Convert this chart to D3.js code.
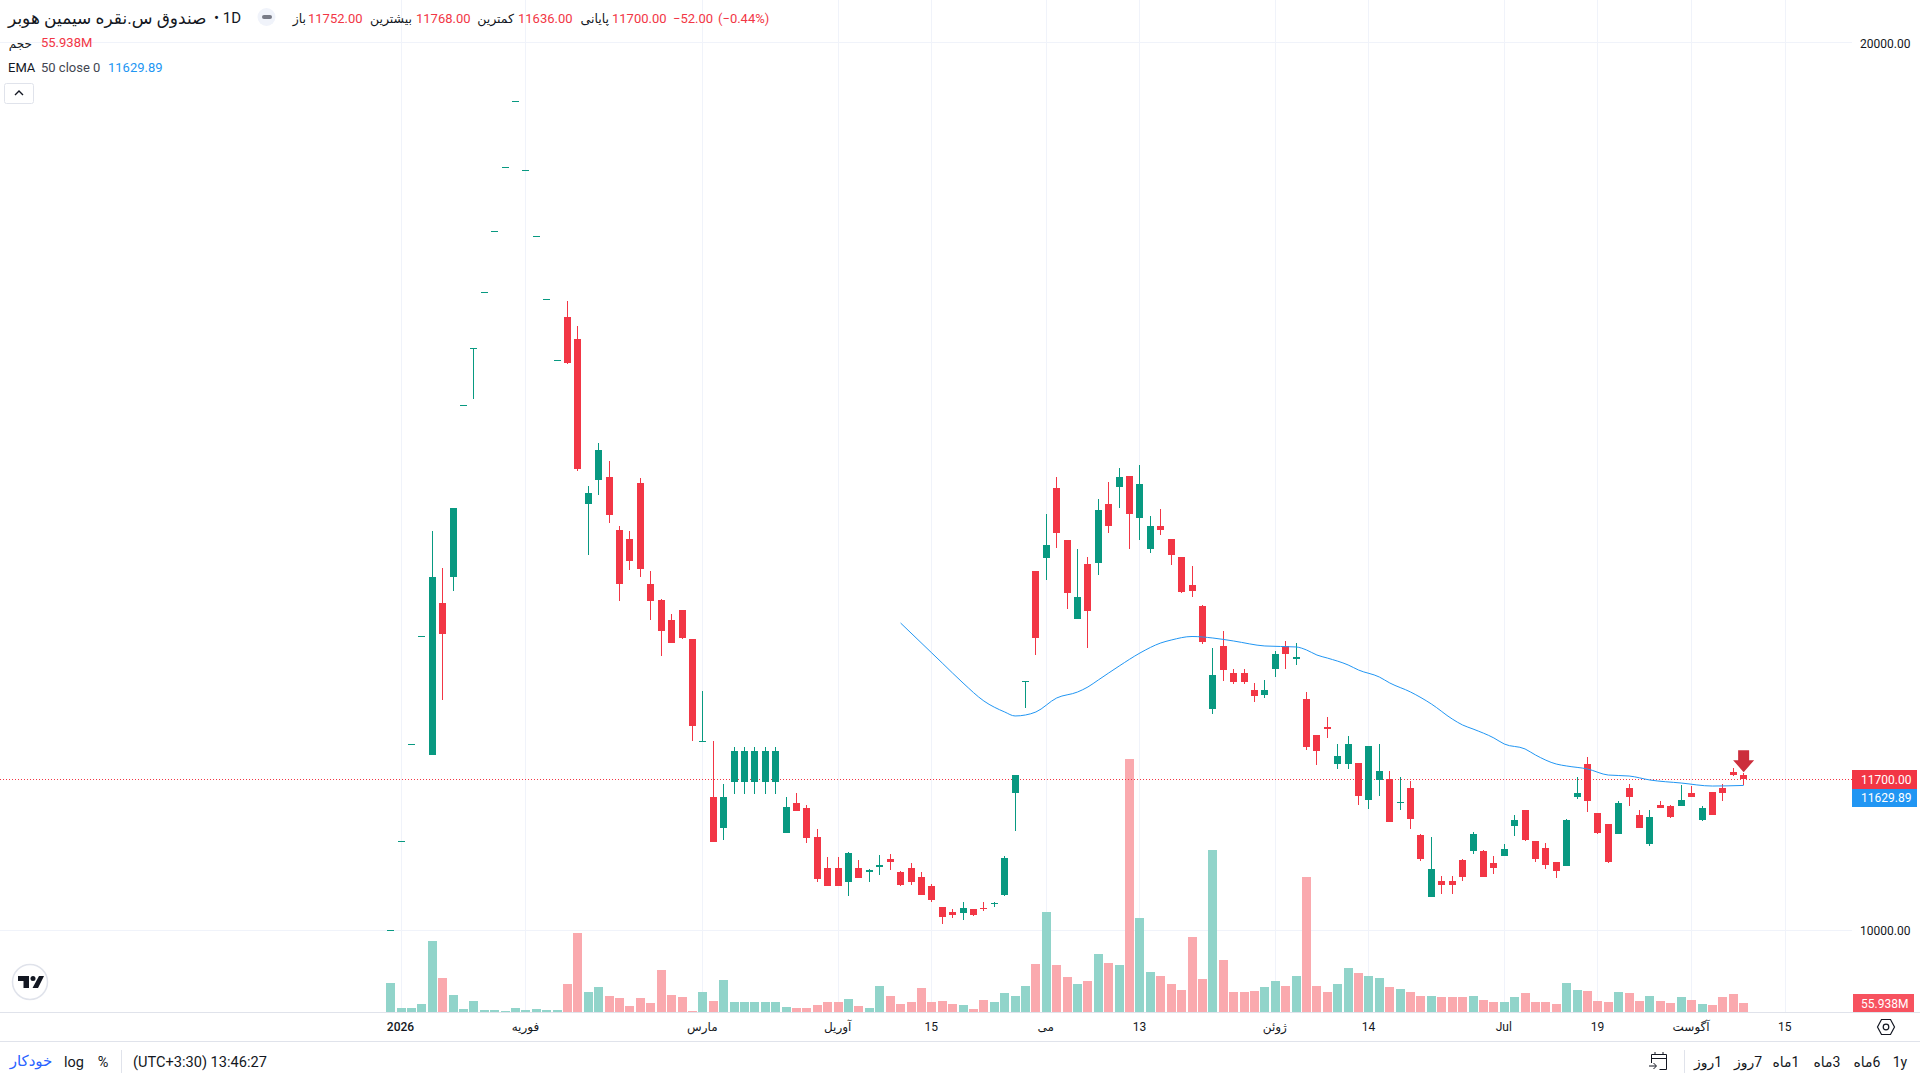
<!DOCTYPE html>
<html>
<head>
<meta charset="utf-8">
<script src="https://cdn.jsdelivr.net/npm/d3@7"></script>
<style>
  html, body { margin: 0; padding: 0; background: #fff; overflow: hidden; }
  text { font-family: Roboto, "DejaVu Sans", sans-serif; }
</style>
</head>
<body>
<div id="wrapper"></div>
<script>
// values, one entry per daily bar
const openValues = [
  10000,11000,12100,13310,11973,13687,13980,15915,16558,17189,
  17877,18599,19343,18565,17821,17110,16423,16911,16663,14803,
  15073,15107,14510,14408,15039,13901,13720,13495,13608,13281,
  12130,11499,11150,11669,11669,11669,11669,11669,11094,11432,
  11375,11048,10699,10699,10541,10699,10654,10710,10800,10654,
  10699,10598,10496,10259,10203,10192,10237,10248,10293,10395,
  11545,12807,14047,14194,14983,14397,13506,14126,14138,14803,
  14994,15118,14645,14295,14555,14408,14205,13890,13653,12492,
  13202,12897,12897,12706,12649,12943,13202,13055,12604,12198,
  12289,11871,11871,11883,11466,11691,11702,11432,11601,11071,
  10372,10552,10552,10789,10891,10891,10755,10834,11172,11353,
  11003,10924,10767,10722,11499,11871,11319,11195,11082,11601,
  11297,10970,11409,11398,11398,11545,11240,11556,11601,11781,11752];
const highValues = [
  10000,11000,12100,13310,14498,14081,14758,15915,16558,17189,
  17877,18599,19343,18565,17821,17110,16423,17091,16810,15006,
  15490,15288,14555,14498,15096,14047,13732,13563,13608,13281,
  12694,12130,11646,12063,12063,12063,12063,12063,11499,11545,
  11409,11139,10823,10823,10879,10789,10688,10846,10857,10665,
  10755,10654,10519,10259,10237,10316,10237,10316,10316,10834,
  11747,12807,14047,14690,15107,14397,14295,14205,14859,15051,
  15209,15118,15242,14667,14746,14408,14205,14104,13664,13179,
  13371,12943,12943,12785,12819,13145,13258,13236,12683,12198,
  12401,12097,12187,11883,12074,12097,11793,11725,11680,11082,
  11048,10609,10609,10800,11105,10902,10834,10970,11297,11353,
  11003,10981,10767,11251,11725,11950,11319,11195,11454,11646,
  11353,11353,11454,11409,11635,11623,11398,11556,11646,11826,11768];
const lowValues = [
  10000,11000,12100,13310,11973,12593,13822,15915,15990,17189,
  17877,18599,19343,18565,17821,17110,16423,16381,15175,14228,
  14904,14589,13709,14059,13980,13495,13089,13236,13281,12131,
  12130,10992,11015,11533,11533,11533,11533,11533,11094,11342,
  10981,10541,10496,10496,10383,10586,10541,10620,10676,10496,
  10507,10395,10316,10068,10135,10113,10158,10214,10259,10383,
  11116,12503,13100,13946,14307,13619,13506,13179,14002,14476,
  14758,14295,14397,14250,14453,14115,13799,13754,13224,12435,
  12807,12773,12773,12570,12616,12852,12943,12988,12029,11860,
  12165,11815,11815,11409,11364,11511,11218,11353,11139,10778,
  10372,10406,10406,10552,10857,10598,10631,10834,11060,11003,
  10767,10688,10586,10722,11477,11330,11082,10755,11082,11398,
  11150,10947,11375,11263,11398,11499,11229,11297,11454,11736,11636];
const closeValues = [
  10000,11000,12100,13310,13980,13337,14758,15915,16558,17189,
  17877,18599,19343,18565,17821,17110,16423,16392,15197,14927,
  15412,14679,13901,14160,14070,13709,13371,13236,13292,12300,
  12130,10992,11499,12018,12018,12018,12018,12018,11387,11342,
  11037,10575,10496,10496,10868,10586,10676,10733,10767,10507,
  10541,10395,10338,10147,10169,10248,10169,10237,10304,10812,
  11747,12807,13292,14340,14476,13799,13754,13596,14735,14555,
  15107,14690,15028,14555,14510,14228,13811,13822,13247,12875,
  12931,12796,12796,12638,12706,13112,13112,13078,12063,12018,
  12266,11962,12097,11511,12074,11793,11218,11443,11251,10800,
  10688,10507,10507,10598,11082,10598,10699,10913,11240,11015,
  10800,10733,10665,11240,11545,11454,11094,10767,11432,11499,
  11150,11274,11375,11274,11466,11499,11375,11297,11545,11747,11700];
// volume in millions
const volumeValues = [
  176,26,26,50,429,206,104,20,68,14,
  14,6,26,14,20,14,14,170,477,122,
  152,98,86,38,86,56,254,104,92,8,
  122,68,194,62,62,62,62,62,32,26,
  26,44,62,62,80,38,26,158,98,50,
  62,146,62,68,50,44,20,74,62,116,
  98,158,291,603,285,212,170,188,351,297,
  285,1522,567,242,218,170,134,453,200,974,
  315,122,122,128,152,188,158,218,812,158,
  122,170,266,236,218,206,152,140,122,98,
  98,92,92,92,98,74,62,62,92,116,
  62,62,50,176,134,128,68,62,122,116,
  68,98,68,56,92,74,50,44,92,110,55.938];

// EMA 50, read at these bars
const emaBars = [49,52,53,55,57,59,60,61,62,64,66,67,68,70,72,74,75,77,79,81,84,87,88,89,90,92,93,95,96,98,100,102,103,104,106,107,109,110,112,113,115,117,119,121,124,127,130];
const emaValues = [13461,13123,13010,12785,12582,12458,12413,12424,12458,12616,12683,12740,12819,12976,13123,13236,13269,13309,13292,13258,13202,13191,13157,13100,13066,12988,12931,12852,12785,12683,12548,12379,12311,12266,12165,12097,12041,11973,11871,11849,11815,11747,11736,11691,11657,11623,11629.89];

const timeTickBars = [1,13,30,43,52,63,72,85,94,107,116,125,134];
const timeTickLabels = ["2026","فوریه","مارس","آوریل","15","می","13","ژوئن","14","Jul","19","آگوست","15"];
const priceTicks = [10000,20000];

const headerLabels = ["باز","بیشترین","کمترین","پایانی"];
const headerNumbers = ["11752.00","11768.00","11636.00","11700.00"];
const rangeButtons = ["1y","6ماه","3ماه","1ماه","7روز","1روز"];

const drawChart = () => {

  const green = "#089981", red = "#f23645", blue = "#2196f3", ink = "#131722";

  const dimensions = { width: 1920, height: 1080, plotRight: 1852, volumeBase: 1012, axisBottom: 1041 };

  const svg = d3.select("#wrapper").append("svg")
    .attr("width", dimensions.width)
    .attr("height", dimensions.height)
    .style("display", "block");

  // scales
  const xScale = d3.scaleLinear().domain([0,130]).range([390.6,1743.64]);
  const yScale = d3.scaleLinear().domain([10000,20000]).range([930,43]);
  const volScale = d3.scaleLinear().domain([0,1522]).range([dimensions.volumeBase,759]);
  const px = i => Math.floor(xScale(i));
  const py = v => Math.round(yScale(v));

  const bars = openValues.map((o,i) => ({
    i, open:o, high:highValues[i], low:lowValues[i], close:closeValues[i], volume:volumeValues[i]
  }));
  const colorOf = d => d.close >= d.open ? green : red;

  // grid
  const grid = svg.append("g").attr("shape-rendering","crispEdges");
  grid.selectAll(".v").data(timeTickBars).join("rect").attr("class","v")
    .attr("x", px).attr("y",0).attr("width",1).attr("height",dimensions.volumeBase)
    .attr("fill","#f0f3fa");
  grid.selectAll(".h").data(priceTicks).join("rect").attr("class","h")
    .attr("x",0).attr("y", d => d === 20000 ? py(d)-1 : py(d)).attr("width",dimensions.plotRight).attr("height",1)
    .attr("fill","#f0f3fa");

  // volume
  svg.append("g").attr("shape-rendering","crispEdges")
    .selectAll("rect").data(bars).join("rect")
    .attr("x", d => px(d.i)-4)
    .attr("width", 9)
    .attr("y", d => Math.round(volScale(d.volume)))
    .attr("height", d => dimensions.volumeBase - Math.round(volScale(d.volume)))
    .attr("fill", d => d.close >= d.open ? "#91d4ca" : "#faa9ae");

  // last price line
  svg.append("line")
    .attr("x1",0).attr("x2",dimensions.plotRight)
    .attr("y1",py(11700)+0.5).attr("y2",py(11700)+0.5)
    .attr("stroke",red).attr("stroke-dasharray","1,2");

  // candles
  const candles = svg.append("g").attr("shape-rendering","crispEdges");
  candles.selectAll(".wick").data(bars).join("rect").attr("class","wick")
    .attr("x", d => px(d.i))
    .attr("width",1)
    .attr("y", d => py(d.high))
    .attr("height", d => Math.max(1, py(d.low)-py(d.high)))
    .attr("fill", colorOf);
  candles.selectAll(".body").data(bars).join("rect").attr("class","body")
    .attr("x", d => px(d.i)-3)
    .attr("width",7)
    .attr("y", d => py(Math.max(d.open,d.close)))
    .attr("height", d => Math.max(1, py(Math.min(d.open,d.close))-py(Math.max(d.open,d.close))))
    .attr("fill", colorOf);

  // EMA
  const emaLine = d3.line()
    .x(d => xScale(d[0]) )
    .y(d => yScale(d[1]))
    .curve(d3.curveMonotoneX);
  svg.append("path")
    .attr("d", emaLine(emaBars.map((b,k) => [b,emaValues[k]])))
    .attr("fill","none").attr("stroke",blue).attr("stroke-width",1);

  // signal arrow over the last bar
  const ax = xScale(130), ay = yScale(11768) - 1;
  svg.append("path")
    .attr("d", `M${ax},${ay}l-10.5,-12h5v-10h11v10h5z`)
    .attr("fill","#cc2e3c");

  // axis lines
  const frame = svg.append("g").attr("shape-rendering","crispEdges");
  frame.append("rect").attr("x",0).attr("y",dimensions.volumeBase).attr("width",1920).attr("height",1).attr("fill","#e0e3eb");
  frame.append("rect").attr("x",0).attr("y",dimensions.axisBottom).attr("width",1920).attr("height",1).attr("fill","#e0e3eb");

  // axes
  const timeAxis = d3.axisBottom(xScale)
    .tickValues(timeTickBars)
    .tickFormat((d,k) => timeTickLabels[k])
    .tickSize(0).tickPadding(10);
  const tg = svg.append("g").attr("transform",`translate(-1,${dimensions.volumeBase})`).call(timeAxis);
  tg.select(".domain").remove();
  tg.selectAll("text").attr("fill",ink).style("font-size","12px")
    .style("font-family",'Roboto, "DejaVu Sans", sans-serif')
    .style("font-weight",(d,k) => k === 0 ? 500 : 400);

  const priceAxis = d3.axisRight(yScale)
    .tickValues(priceTicks)
    .tickFormat(d3.format(".2f"))
    .tickSize(0).tickPadding(8);
  const pg = svg.append("g").attr("transform",`translate(${dimensions.plotRight},0.5)`).call(priceAxis);
  pg.select(".domain").remove();
  pg.selectAll("text").attr("fill",ink).style("font-size","12px")
    .style("font-family",'Roboto, "DejaVu Sans", sans-serif');

  // price labels on the right
  const tag = (x,y,w,h,fill,txt,tx) => {
    svg.append("rect").attr("x",x).attr("y",y).attr("width",w).attr("height",h).attr("fill",fill).attr("shape-rendering","crispEdges");
    svg.append("text").attr("x",tx).attr("y",y+h/2+4.5).attr("fill","#fff").style("font-size","12px").text(txt);
  };
  tag(1852,770,65,18.5,red,"11700.00",1861);
  tag(1852,788.5,65,18.5,blue,"11629.89",1861);
  tag(1853,994,61,18,"#f7525f","55.938M",1861);

  // legend
  const label = (x,y,txt,fill,size,anchor) => svg.append("text")
    .attr("x",x).attr("y",y).attr("fill",fill||ink)
    .attr("text-anchor",anchor||"start")
    .style("font-size",(size||13)+"px").text(txt);

  label(8,24,"صندوق س.نقره سیمین هوبر",ink,17);
  label(214,23,"• 1D",ink,15);
  svg.append("circle").attr("cx",266.5).attr("cy",17).attr("r",9).attr("fill","#f0f3fa");
  svg.append("rect").attr("x",262).attr("y",15).attr("width",10).attr("height",4).attr("rx",2).attr("fill","#787b86");

  const labelEnd = [306,412,514,609], numberStart = [308,416,518,612];
  headerLabels.forEach((t,k) => {
    label(labelEnd[k],23,t,ink,12.5,"end");
    label(numberStart[k],23,headerNumbers[k],red);
  });
  label(673,23,"−52.00",red);
  label(718,23,"(−0.44%)",red);

  label(32,48,"حجم",ink,12,"end");
  label(41,47,"55.938M",red);
  label(8,72,"EMA",ink);
  label(41,72,"50 close 0","#434651");
  label(108,72,"11629.89",blue);

  svg.append("rect").attr("x",4.5).attr("y",83.5).attr("width",29).attr("height",20).attr("rx",2)
    .attr("fill","#fff").attr("stroke","#e0e3eb");
  svg.append("path").attr("d","M15,95l4,-4l4,4").attr("fill","none").attr("stroke",ink).attr("stroke-width",1.4);

  // tradingview badge
  svg.append("circle").attr("cx",30).attr("cy",982).attr("r",17.5).attr("fill","#fff").attr("stroke","#e0e3eb").attr("stroke-width",1.5);
  svg.append("path").attr("d","M18,976h11v12h-5.5v-7h-5.5zM39,976h5l-6,12h-5.5z").attr("fill",ink);
  svg.append("circle").attr("cx",33).attr("cy",978.5).attr("r",2.5).attr("fill",ink);

  // settings icon
  svg.append("path").attr("d","M1877.5,1027l4,-7.5h9l4,7.5l-4,7.5h-9z").attr("fill","none").attr("stroke",ink).attr("stroke-width",1.2);
  svg.append("circle").attr("cx",1886).attr("cy",1027).attr("r",2.8).attr("fill","none").attr("stroke",ink).attr("stroke-width",1.2);

  // bottom bar
  label(31,1066,"خودکار","#2962ff",15,"middle");
  label(64,1067,"log",ink,14.5);
  label(103,1067,"%",ink,14.5,"middle");
  label(133,1067,"(UTC+3:30) 13:46:27",ink,14.6);
  const sep = svg.append("g").attr("shape-rendering","crispEdges").attr("fill","#e0e3eb");
  sep.append("rect").attr("x",121).attr("y",1050).attr("width",1).attr("height",23);
  sep.append("rect").attr("x",1684).attr("y",1050).attr("width",1).attr("height",23);

  const buttonCenters = [1900,1867,1827,1786,1748,1708];
  rangeButtons.forEach((t,k) => {
    label(buttonCenters[k],1067,t,ink,14,"middle").attr("direction",k === 0 ? "ltr" : "rtl");
  });

  // date range icon
  const cal = svg.append("g").attr("fill","none").attr("stroke",ink).attr("stroke-width",1);
  cal.append("path").attr("d","M1651.5,1063v-8.5h15v15h-7");
  cal.append("path").attr("d","M1651.5,1058.5h15M1655,1052v3M1663,1052v3");
  cal.append("path").attr("d","M1649,1066h7M1653.5,1063l3,3l-3,3");
};

drawChart();
</script>
</body>
</html>
